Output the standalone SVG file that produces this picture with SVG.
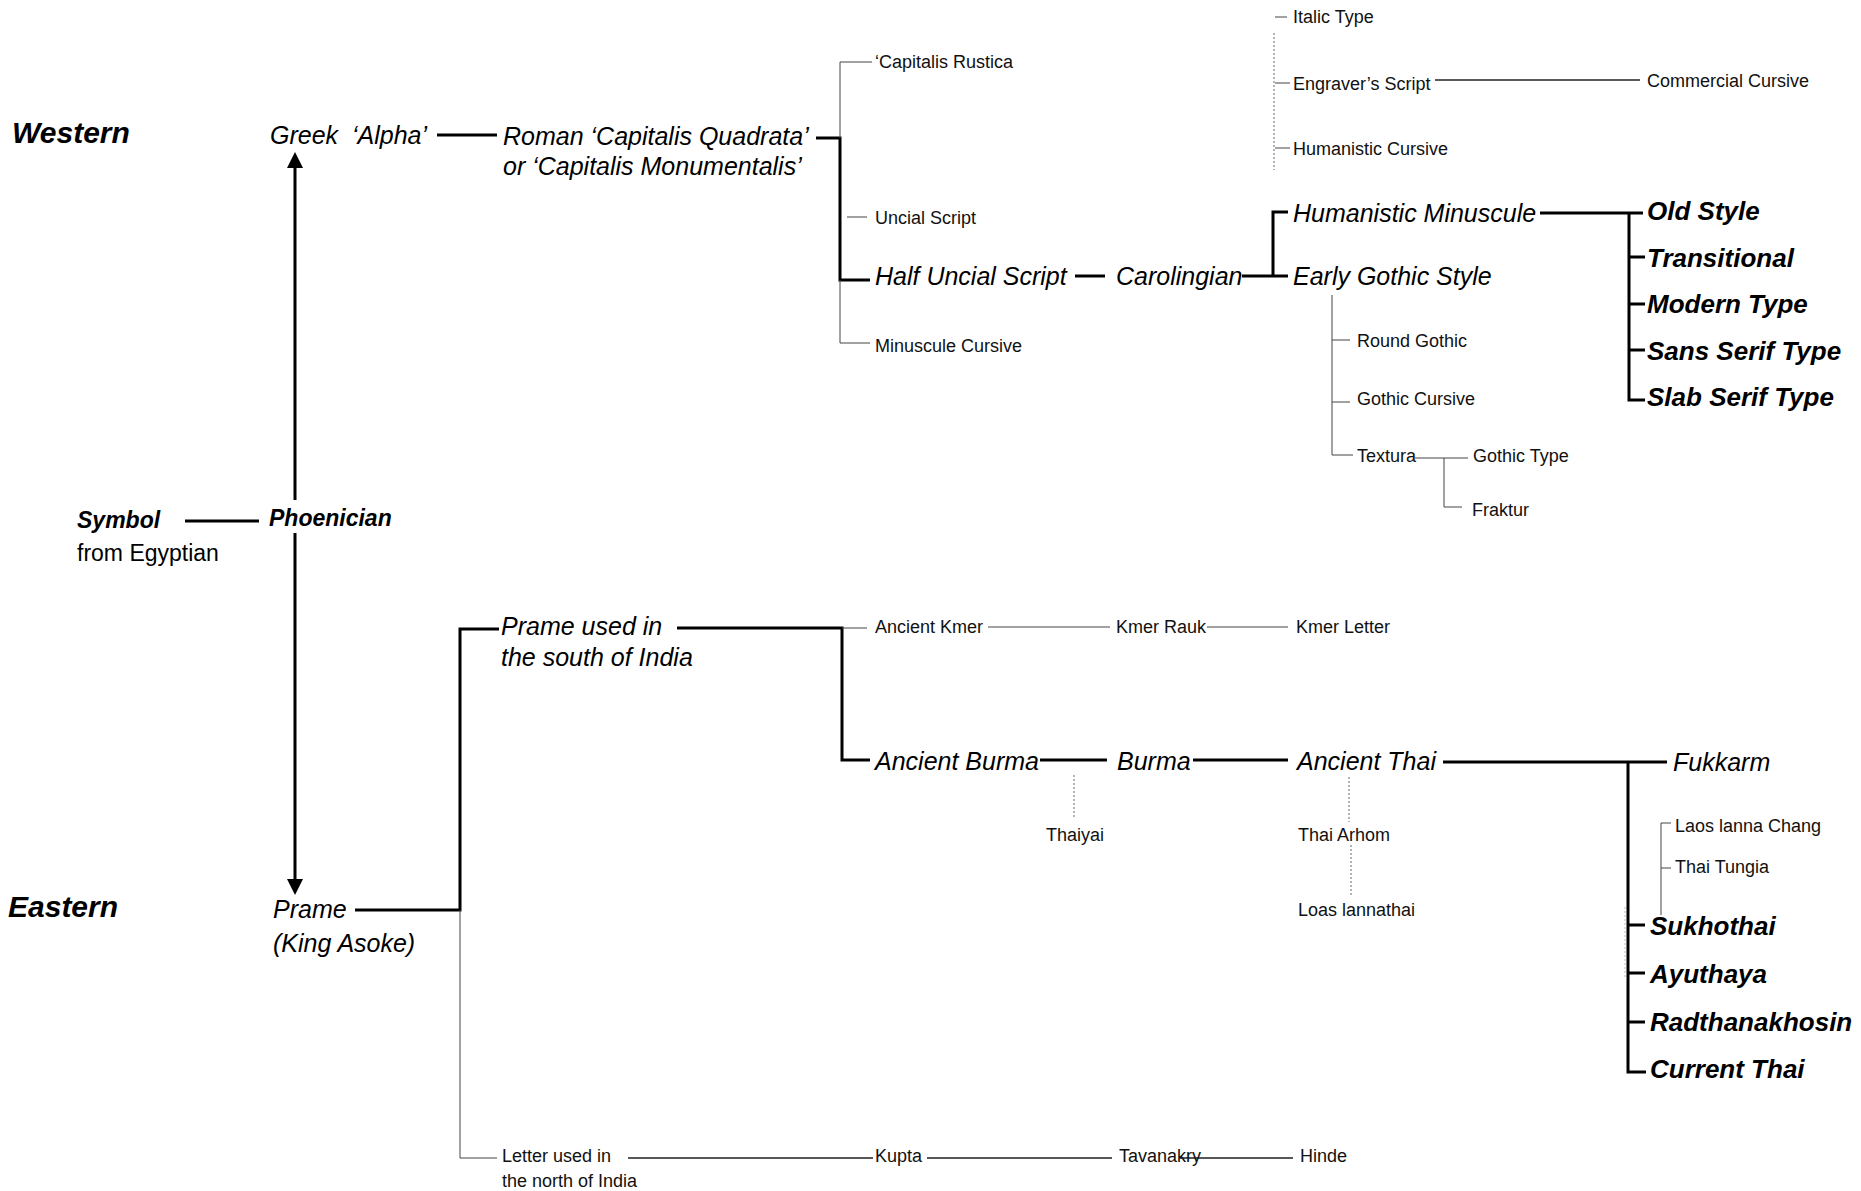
<svg xmlns="http://www.w3.org/2000/svg" width="1861" height="1191" viewBox="0 0 1861 1191">
<style>
text{font-family:"Liberation Sans",Arial,sans-serif;fill:#000}
.h{font-size:30px;font-weight:bold;font-style:italic}
.bi{font-size:23px;font-weight:bold;font-style:italic}
.bt{font-size:26px;font-weight:bold;font-style:italic}
.it{font-size:25px;font-style:italic}
.rg{font-size:23px}
.sm{font-size:18px;fill:#111}
.thick{stroke:#000;stroke-width:3;fill:none}
.thin{stroke:#444;stroke-width:1;fill:none}
.mid{stroke:#222;stroke-width:1.5;fill:none}
.dot{stroke:#666;stroke-width:1;fill:none;stroke-dasharray:2 2}
</style>
<defs>
<marker id="arr" viewBox="0 0 16 16" markerWidth="16" markerHeight="16" refX="2" refY="8" orient="auto" markerUnits="userSpaceOnUse">
<path d="M0,0 L16,8 L0,16 z" fill="#000"/>
</marker>
</defs>
<rect width="1861" height="1191" fill="#fff"/>
<g id="connectors">
<path class="thick" d="M185,521 H259"/>
<path class="thick" d="M295,500 V166" marker-end="url(#arr)"/>
<path class="thick" d="M295,533 V881" marker-end="url(#arr)"/>
<path class="thick" d="M437,135 H497"/>
<path class="thick" d="M816,138 H840 V280 H870"/>
<path class="thin" d="M840,138 V62 H872"/>
<path class="thin" d="M847,217 H867"/>
<path class="thin" d="M840,280 V343 H870"/>
<path class="thick" d="M1075,276 H1105"/>
<path class="thick" d="M1242,276 H1288 M1273,276 V212 H1288"/>
<path class="dot" d="M1274,33 V170"/>
<path class="thin" d="M1275,17 H1287 M1275,83 H1290 M1275,148 H1290"/>
<path class="mid" d="M1435,80 H1640"/>
<path class="thick" d="M1540,213 H1643 M1629,213 V400 H1645 M1629,257 H1645 M1629,304 H1645 M1629,350 H1645"/>
<path class="thin" d="M1332,295 V455 H1353 M1332,340 H1350 M1332,402 H1350"/>
<path class="thin" d="M1415,458 H1468 M1444,458 V507 H1462"/>
<path class="thick" d="M355,910 H460 V629 H499"/>
<path class="thin" d="M460,910 V1158 H497"/>
<path class="thick" d="M677,628 H842 V760 H870"/>
<path class="thin" d="M842,628 H867"/>
<path class="thin" d="M988,627 H1110 M1207,627 H1288"/>
<path class="thick" d="M1040,760 H1107 M1193,760 H1288"/>
<path class="thick" d="M1443,762 H1667 M1628,762 V1072 H1646 M1628,925 H1645 M1628,973 H1645 M1628,1022 H1645"/>
<path class="dot" d="M1074,775 V818"/>
<path class="dot" d="M1349,777 V822 M1351,845 V896"/>
<path class="thin" d="M1671,823 H1661 V915 M1661,868 H1671"/>
<path class="dot" d="M1625,907 V977" style="stroke:#bbb"/>
<path class="mid" d="M628,1158 H873 M927,1158 H1112 M1180,1158 H1293"/>
</g>
<g id="western"><text class="h" x="12" y="143">Western</text></g>
<g id="eastern"><text class="h" x="8" y="917">Eastern</text></g>
<g id="symbol"><text class="bi" x="77" y="528">Symbol</text><text class="rg" x="77" y="561">from Egyptian</text></g>
<g id="phoenician"><text class="bi" x="269" y="526">Phoenician</text></g>
<g id="greek"><text class="it" x="270" y="144">Greek<tspan x="352">‘Alpha’</tspan></text></g>
<g id="roman"><text class="it" x="503" y="145">Roman ‘Capitalis Quadrata’</text><text class="it" x="503" y="175">or ‘Capitalis Monumentalis’</text></g>
<g id="rustica"><text class="sm" x="875" y="68">‘Capitalis Rustica</text></g>
<g id="uncial"><text class="sm" x="875" y="224">Uncial Script</text></g>
<g id="halfuncial"><text class="it" x="875" y="285">Half Uncial Script</text></g>
<g id="minuscule-cursive"><text class="sm" x="875" y="352">Minuscule Cursive</text></g>
<g id="carolingian"><text class="it" x="1116" y="285">Carolingian</text></g>
<g id="italic-type"><text class="sm" x="1293" y="23">Italic Type</text></g>
<g id="engraver"><text class="sm" x="1293" y="90">Engraver’s Script</text></g>
<g id="humanistic-cursive"><text class="sm" x="1293" y="155">Humanistic Cursive</text></g>
<g id="commercial"><text class="sm" x="1647" y="87">Commercial Cursive</text></g>
<g id="humanistic-minuscule"><text class="it" x="1293" y="222">Humanistic Minuscule</text></g>
<g id="early-gothic"><text class="it" x="1293" y="285">Early Gothic Style</text></g>
<g id="round-gothic"><text class="sm" x="1357" y="347">Round Gothic</text></g>
<g id="gothic-cursive"><text class="sm" x="1357" y="405">Gothic Cursive</text></g>
<g id="textura"><text class="sm" x="1357" y="462">Textura</text></g>
<g id="gothic-type"><text class="sm" x="1473" y="462">Gothic Type</text></g>
<g id="fraktur"><text class="sm" x="1472" y="516">Fraktur</text></g>
<g id="old-style"><text class="bt" x="1647" y="220">Old Style</text></g>
<g id="transitional"><text class="bt" x="1647" y="267">Transitional</text></g>
<g id="modern"><text class="bt" x="1647" y="313">Modern Type</text></g>
<g id="sans"><text class="bt" x="1647" y="360">Sans Serif Type</text></g>
<g id="slab"><text class="bt" x="1647" y="406">Slab Serif Type</text></g>
<g id="prame"><text class="it" x="273" y="918">Prame</text><text class="it" x="273" y="952">(King Asoke)</text></g>
<g id="prame-south"><text class="it" x="501" y="635">Prame used in</text><text class="it" x="501" y="666">the south of India</text></g>
<g id="ancient-kmer"><text class="sm" x="875" y="633">Ancient Kmer</text></g>
<g id="kmer-rauk"><text class="sm" x="1116" y="633">Kmer Rauk</text></g>
<g id="kmer-letter"><text class="sm" x="1296" y="633">Kmer Letter</text></g>
<g id="ancient-burma"><text class="it" x="875" y="770">Ancient Burma</text></g>
<g id="burma"><text class="it" x="1117" y="770">Burma</text></g>
<g id="ancient-thai"><text class="it" x="1297" y="770">Ancient Thai</text></g>
<g id="fukkarm"><text class="it" x="1673" y="771">Fukkarm</text></g>
<g id="thaiyai"><text class="sm" x="1046" y="841">Thaiyai</text></g>
<g id="thai-arhom"><text class="sm" x="1298" y="841">Thai Arhom</text></g>
<g id="loas"><text class="sm" x="1298" y="916">Loas lannathai</text></g>
<g id="laos-chang"><text class="sm" x="1675" y="832">Laos lanna Chang</text></g>
<g id="thai-tungia"><text class="sm" x="1675" y="873">Thai Tungia</text></g>
<g id="sukhothai"><text class="bt" x="1650" y="935">Sukhothai</text></g>
<g id="ayuthaya"><text class="bt" x="1650" y="983">Ayuthaya</text></g>
<g id="radthanakhosin"><text class="bt" x="1650" y="1031">Radthanakhosin</text></g>
<g id="current-thai"><text class="bt" x="1650" y="1078">Current Thai</text></g>
<g id="letter-north"><text class="sm" x="502" y="1162">Letter used in</text><text class="sm" x="502" y="1187">the north of India</text></g>
<g id="kupta"><text class="sm" x="875" y="1162">Kupta</text></g>
<g id="tavanakry"><text class="sm" x="1119" y="1162">Tavanakry</text></g>
<g id="hinde"><text class="sm" x="1300" y="1162">Hinde</text></g>
</svg>
